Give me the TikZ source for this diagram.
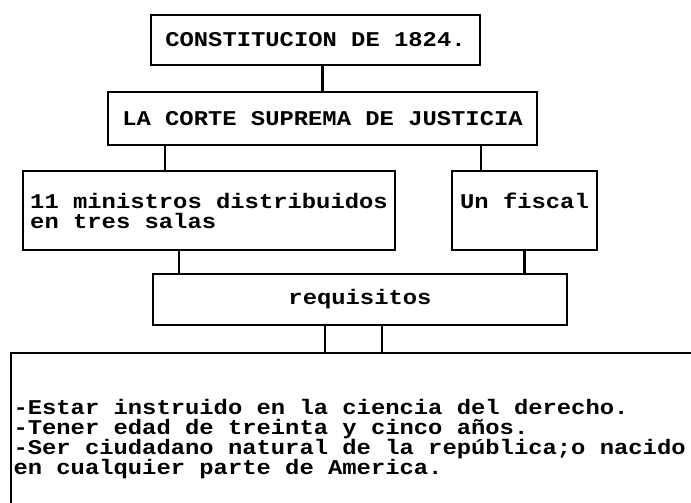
\documentclass[tikz,border=0pt]{standalone}
\usepackage{fontspec}
\newfontfamily\maquina[FakeStretch=1.135]{Liberation Mono}

\begin{document}
\begin{tikzpicture}[
    x=0.5pt, y=-0.5pt,
    caja/.style={rectangle, draw=black, line width=1.1pt, align=center, inner sep=0pt, font=\maquina\bfseries\fontsize{10.5}{10}\selectfont},
    enlace/.style={line width=1.1pt}
]
\clip (0,0) rectangle (691,503);

% Cajas
\node[caja, minimum width=164.5pt, minimum height=25pt] (const) at (315.5,40) {CONSTITUCION DE 1824.};
\node[caja, minimum width=214.5pt, minimum height=26.5pt] (corte) at (322.5,118.5) {LA CORTE SUPREMA DE JUSTICIA};
\node[caja, align=left, minimum width=186pt, minimum height=39.5pt] (minis) at (209,210.5) {11 ministros distribuidos\\en tres salas};
\node[caja, align=left, minimum width=72.5pt, minimum height=39.5pt] (fiscal) at (524.5,210.5) {Un fiscal\\\phantom{U}};
\node[caja, minimum width=207pt, minimum height=25.5pt] (req) at (360,299.5) {requisitos};
\node[caja, anchor=north west, align=justify, text width=350pt, inner xsep=1.2pt, inner ysep=23pt] (marco) at (10,352) {-Estar instruido en la ciencia del derecho.\\-Tener edad de treinta y cinco años.\\-Ser ciudadano natural de la república;o nacido\\en cualquier parte de America.};

% Enlaces
\draw[enlace] (corte.north) -- (corte.north |- const.south);
\coordinate (ci) at ([xshift=29pt]corte.south west);
\coordinate (cd) at ([xshift=-28.5pt]corte.south east);
\draw[enlace] (ci) -- (ci |- minis.north);
\draw[enlace] (cd) -- (cd |- fiscal.north);
\coordinate (ri) at ([xshift=13.5pt]req.north west);
\draw[enlace] (ri) -- (ri |- minis.south);
\draw[enlace] (fiscal.south) -- (fiscal.south |- req.north);
\coordinate (bi) at ([xshift=-17.5pt]req.south);
\coordinate (bd) at ([xshift=11pt]req.south);
\draw[enlace] (bi) -- (bi |- marco.north);
\draw[enlace] (bd) -- (bd |- marco.north);

\end{tikzpicture}
\end{document}
